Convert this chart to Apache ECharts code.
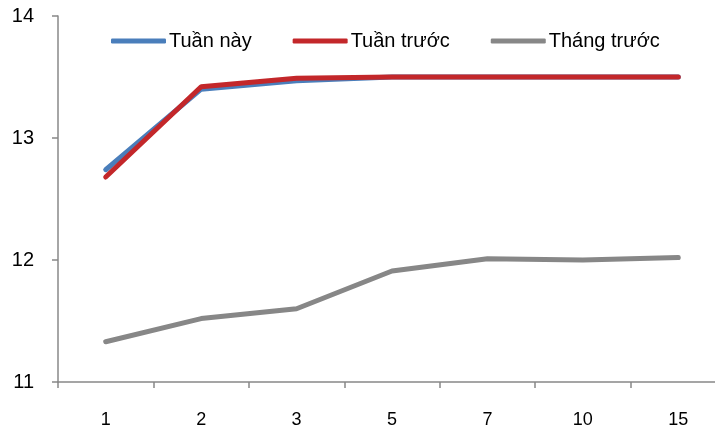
<!DOCTYPE html>
<html>
<head>
<meta charset="utf-8">
<script src="https://cdn.jsdelivr.net/npm/echarts@6/dist/echarts.min.js"></script>
<style>
  html, body { margin: 0; padding: 0; background: #fff; overflow: hidden; }
  #chart { width: 726px; height: 433px; }
</style>
</head>
<body>
<div id="chart"></div>
<script>
const categories = ["1", "2", "3", "5", "7", "10", "15"];
const tuanNay = [12.74, 13.40, 13.47, 13.50, 13.50, 13.50, 13.50];
const tuanTruoc = [12.68, 13.42, 13.49, 13.50, 13.50, 13.50, 13.50];
const thangTruoc = [11.33, 11.52, 11.60, 11.91, 12.01, 12.00, 12.02];
const yTicks = [11, 12, 13, 14];

const font = "'Liberation Sans', Arial, sans-serif";
const chart = echarts.init(document.getElementById("chart"));

function lineSeries(name, data, color) {
  return {
    name: name,
    type: "line",
    data: data,
    symbol: "none",
    lineStyle: { width: 5, color: color, cap: "round" },
    itemStyle: { color: color },
    animation: false
  };
}

chart.setOption({
  textStyle: { fontFamily: font },
  grid: { left: 58, right: 0, top: 16, bottom: 51 },
  legend: {
    left: 111,
    top: 31,
    padding: 0,
    itemWidth: 55,
    itemHeight: 5,
    itemGap: 41,
    icon: "roundRect",
    textStyle: { fontSize: 20, color: "#000", fontFamily: font, padding: [2, 0, 0, -2] },
    data: ["Tuần này", "Tuần trước", "Tháng trước"]
  },
  xAxis: {
    type: "category",
    data: categories,
    boundaryGap: true,
    axisLine: { lineStyle: { color: "#888", width: 1.5 } },
    axisTick: { show: true, length: 6, lineStyle: { color: "#888", width: 1.5 } },
    axisLabel: { fontSize: 18, color: "#000", margin: 29, fontFamily: font },
    splitLine: { show: false }
  },
  yAxis: {
    type: "value",
    min: yTicks[0],
    max: yTicks[yTicks.length - 1],
    interval: 1,
    axisLine: { show: true, lineStyle: { color: "#888", width: 1.5 } },
    axisTick: { show: true, length: 6, lineStyle: { color: "#888", width: 1.5 } },
    axisLabel: { fontSize: 20, color: "#000", margin: 24, fontFamily: font },
    splitLine: { show: false }
  },
  series: [
    lineSeries("Tháng trước", thangTruoc, "#878787"),
    lineSeries("Tuần này", tuanNay, "#4a7ebb"),
    lineSeries("Tuần trước", tuanTruoc, "#c3272a")
  ]
});
</script>
</body>
</html>
